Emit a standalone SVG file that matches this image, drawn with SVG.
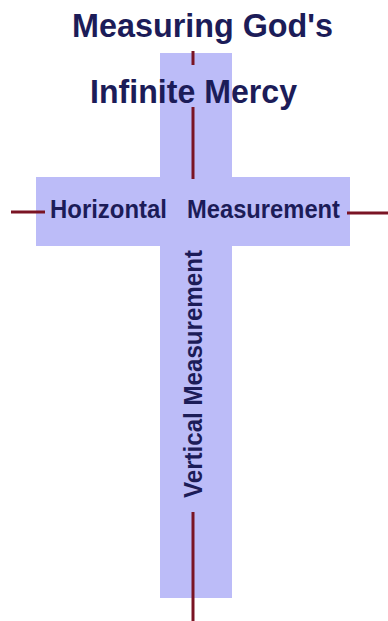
<svg xmlns="http://www.w3.org/2000/svg" width="388" height="621" viewBox="0 0 388 621">
<style>
.bar{fill:#bcbcf8}
.ln{stroke:#7a1424;stroke-width:3;fill:none}
.t{font-family:"Liberation Sans",Arial,sans-serif;font-weight:bold;fill:#1c1c58}
</style>
<rect width="388" height="621" fill="#ffffff"/>
<g id="cross">
<rect class="bar" x="160" y="53" width="72" height="545"/>
<rect class="bar" x="36" y="177" width="314" height="69"/>
</g>
<g id="title">
<text class="t" x="72" y="37" font-size="33" textLength="261" lengthAdjust="spacingAndGlyphs">Measuring God's</text>
<text class="t" x="90" y="103" font-size="33" textLength="207" lengthAdjust="spacingAndGlyphs">Infinite Mercy</text>
</g>
<g id="connectors">
<line class="ln" x1="193" y1="51" x2="193" y2="65"/>
<line class="ln" x1="193" y1="107" x2="193" y2="179"/>
<line class="ln" x1="193" y1="512" x2="193" y2="621"/>
<line class="ln" x1="11" y1="212" x2="45" y2="212"/>
<line class="ln" x1="347" y1="213" x2="388" y2="213"/>
</g>
<g id="horizontal">
<text class="t" x="50" y="218" font-size="25" textLength="117" lengthAdjust="spacingAndGlyphs">Horizontal</text>
</g>
<g id="measurement">
<text class="t" x="187" y="218" font-size="25" textLength="153" lengthAdjust="spacingAndGlyphs">Measurement</text>
</g>
<g id="vertical">
<text class="t" transform="translate(202,498) rotate(-90)" x="0" y="0" font-size="25" textLength="248" lengthAdjust="spacingAndGlyphs">Vertical Measurement</text>
</g>
</svg>
